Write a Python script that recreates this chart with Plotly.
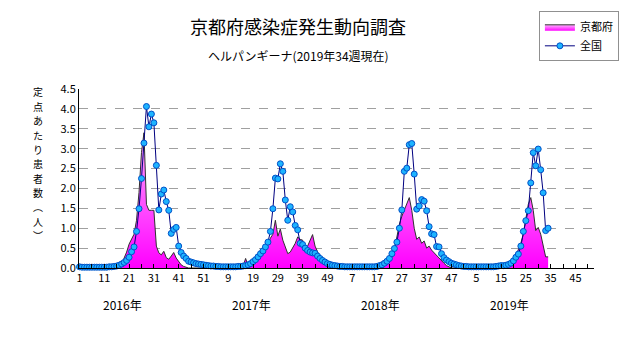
import plotly.graph_objects as go

years = [2016, 2017, 2018, 2019]
weeks_per_year = 52

# 全国 (national), per year, week 1..
nat_2016 = [0.03, 0.02, 0.02, 0.02, 0.02, 0.02, 0.02, 0.02, 0.02, 0.02,
            0.02, 0.02, 0.03, 0.03, 0.04, 0.05, 0.07, 0.10, 0.14, 0.19,
            0.27, 0.41, 0.53, 0.92, 1.49, 2.25, 3.14, 4.06, 3.55, 3.87,
            3.65, 2.58, 1.46, 1.86, 1.96, 1.67, 1.45, 0.87, 0.97, 1.02,
            0.55, 0.39, 0.30, 0.24, 0.17, 0.15, 0.13, 0.11, 0.10, 0.09,
            0.08, 0.07]
nat_2017 = [0.06, 0.05, 0.05, 0.04, 0.04, 0.03, 0.03, 0.03, 0.03, 0.03,
            0.03, 0.03, 0.04, 0.04, 0.05, 0.06, 0.08, 0.11, 0.16, 0.21,
            0.28, 0.36, 0.43, 0.53, 0.65, 0.92, 1.49, 2.26, 2.24, 2.62,
            2.43, 1.71, 1.20, 1.54, 1.41, 1.07, 0.96, 0.62, 0.59, 0.50,
            0.44, 0.40, 0.38, 0.37, 0.30, 0.24, 0.19, 0.15, 0.11, 0.09,
            0.07, 0.06]
nat_2018 = [0.05, 0.04, 0.04, 0.03, 0.03, 0.03, 0.03, 0.03, 0.03, 0.03,
            0.03, 0.03, 0.03, 0.03, 0.03, 0.03, 0.04, 0.06, 0.08, 0.12,
            0.17, 0.24, 0.36, 0.49, 0.65, 1.00, 1.46, 2.43, 2.51, 3.10,
            3.13, 2.36, 1.48, 1.56, 1.72, 1.68, 1.44, 1.04, 0.86, 0.84,
            0.54, 0.53, 0.36, 0.26, 0.20, 0.16, 0.12, 0.10, 0.08, 0.06,
            0.05, 0.04]
nat_2019 = [0.04, 0.03, 0.03, 0.03, 0.03, 0.03, 0.03, 0.03, 0.03, 0.03,
            0.03, 0.03, 0.04, 0.05, 0.06, 0.06, 0.07, 0.09, 0.12, 0.18,
            0.27, 0.35, 0.55, 0.92, 1.19, 1.44, 2.14, 2.90, 2.57, 2.99,
            2.47, 1.89, 0.94, 1.00]

# 京都府 (Kyoto), per year
kyo_2016 = [0, 0, 0, 0, 0, 0, 0, 0, 0, 0,
            0, 0, 0, 0, 0.02, 0.03, 0.05, 0.10, 0.25, 0.40,
            0.60, 0.72, 0.85, 1.20, 1.90, 2.90, 3.40, 1.60, 1.45, 1.45,
            1.45, 0.55, 0.38, 0.33, 0.42, 0.26, 0.22, 0.30, 0.39, 0.25,
            0.15, 0.08, 0.04, 0.02, 0, 0, 0, 0, 0, 0,
            0, 0]
kyo_2017 = [0, 0, 0, 0, 0, 0, 0, 0, 0, 0,
            0, 0, 0, 0, 0.05, 0.24, 0.06, 0.06, 0.08, 0.15,
            0.25, 0.30, 0.40, 0.53, 0.60, 0.75, 0.85, 1.20, 0.80, 0.98,
            0.70, 0.50, 0.36, 0.40, 0.50, 0.62, 0.78, 0.72, 0.70, 0.40,
            0.55, 0.70, 0.84, 0.55, 0.40, 0.27, 0.18, 0.10, 0.05, 0.02,
            0, 0]
kyo_2018 = [0, 0, 0, 0, 0, 0, 0, 0, 0, 0,
            0, 0, 0, 0, 0, 0, 0.02, 0.05, 0.10, 0.15,
            0.20, 0.28, 0.38, 0.50, 0.78, 1.10, 1.30, 1.45, 1.60, 1.77,
            1.45, 1.00, 0.72, 0.78, 0.62, 0.68, 0.50, 0.55, 0.45, 0.38,
            0.32, 0.25, 0.18, 0.12, 0.06, 0.02, 0, 0, 0, 0,
            0, 0]
kyo_2019 = [0, 0, 0, 0, 0, 0, 0, 0, 0, 0,
            0, 0, 0, 0, 0, 0, 0.02, 0.05, 0.10, 0.16,
            0.30, 0.45, 0.62, 0.86, 1.20, 1.60, 1.77, 1.45, 0.94, 1.02,
            0.85, 0.53, 0.28, 0.28]

tick_labels = ["1", "11", "21", "31", "41", "51", "9", "19", "29", "39", "49",
               "7", "17", "27", "37", "47", "5", "15", "25", "35", "45"]
year_labels = ["2016年", "2017年", "2018年", "2019年"]
y_title_chars = list("定点あたり患者数︵人︶")

national = nat_2016 + nat_2017 + nat_2018 + nat_2019
kyoto = kyo_2016 + kyo_2017 + kyo_2018 + kyo_2019
x_idx = list(range(1, len(national) + 1))
total_weeks = weeks_per_year * len(years)
tick_vals = list(range(1, total_weeks + 1, 10))[:len(tick_labels)]

font_jp = "Noto Sans CJK JP"

fig = go.Figure()
fig.add_trace(go.Scatter(
    x=x_idx, y=kyoto, name="京都府", mode="lines",
    line=dict(color="#303030", width=1),
    fill="tozeroy",
    fillgradient=dict(type="vertical",
                      colorscale=[[0, "#FF00FF"], [1, "#FFB4FF"]],
                      start=0, stop=3.6),
))
fig.add_trace(go.Scatter(
    x=x_idx, y=national, name="全国", mode="lines+markers",
    line=dict(color="#000080", width=1),
    marker=dict(size=6, color="#1EB4FF", line=dict(color="#0050C8", width=1)),
    cliponaxis=False,
))

annotations = [
    dict(text="京都府感染症発生動向調査", xref="paper", yref="paper",
         x=0.4255, y=1.352, showarrow=False, xanchor="center", yanchor="middle",
         font=dict(family=font_jp, size=18, color="black")),
    dict(text="ヘルパンギーナ(2019年34週現在)", xref="paper", yref="paper",
         x=0.4255, y=1.187, showarrow=False, xanchor="center", yanchor="middle",
         font=dict(family=font_jp, size=12, color="black")),
]
# vertical y-axis title, one glyph per line
plot_top_px, plot_h_px = 86, 182
for k, ch in enumerate(y_title_chars):
    ypx = 89 + k * 14.6
    annotations.append(dict(
        text=ch, xref="paper", yref="paper",
        x=-0.079, y=1 - (ypx - plot_top_px) / plot_h_px, showarrow=False,
        xanchor="center", yanchor="middle", borderpad=0,
        font=dict(family=font_jp, size=10, color="black")))
for k, lab in enumerate(year_labels):
    annotations.append(dict(
        text=lab, xref="x", yref="paper",
        x=1 + weeks_per_year * k + 17.5, y=-0.203, showarrow=False,
        xanchor="center", yanchor="middle",
        font=dict(family=font_jp, size=12, color="black")))

fig.update_layout(
    width=631, height=347,
    margin=dict(l=79, r=35, t=86, b=79),
    paper_bgcolor="white", plot_bgcolor="white",
    font=dict(family=font_jp, size=11, color="black"),
    showlegend=True,
    legend=dict(x=0.893, y=1.434, xanchor="left", yanchor="top",
                bordercolor="#909090", borderwidth=1, bgcolor="white",
                font=dict(family=font_jp, size=11), itemwidth=30,
                tracegroupgap=0),
    annotations=annotations,
    xaxis=dict(range=[0.8, 208.5], tickmode="array", tickvals=tick_vals,
               ticktext=tick_labels, ticks="inside", ticklen=4,
               tickcolor="black", showgrid=False, zeroline=False,
               showline=True, linecolor="black", linewidth=1,
               minor=dict(tick0=1, dtick=5, ticks="inside", ticklen=4,
                          tickcolor="black"),
               tickfont=dict(family=font_jp, size=11)),
    yaxis=dict(range=[0, 4.5], tickmode="linear", tick0=0, dtick=0.5,
               tickformat=".1f", showgrid=True, gridcolor="#A0A0A0",
               griddash="dash", gridwidth=1, zeroline=False,
               showline=True, linecolor="black", linewidth=1,
               tickfont=dict(family=font_jp, size=11)),
)

fig.write_html("out.html")
